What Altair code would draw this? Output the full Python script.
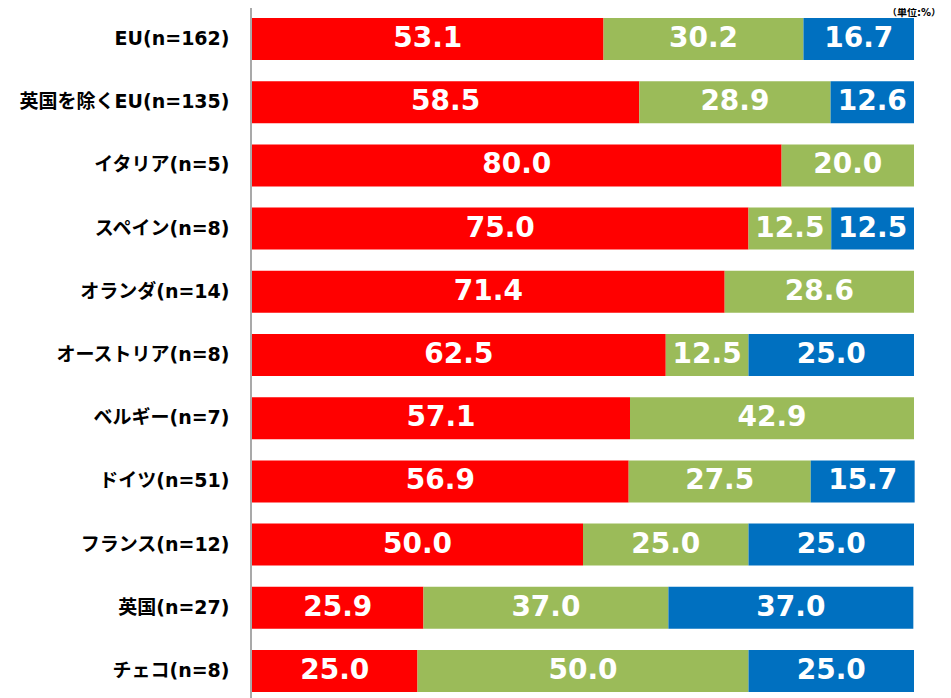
import altair as alt
import pandas as pd

categories = ["EU(n=162)", "英国を除くEU(n=135)", "イタリア(n=5)", "スペイン(n=8)",
              "オランダ(n=14)", "オーストリア(n=8)", "ベルギー(n=7)", "ドイツ(n=51)",
              "フランス(n=12)", "英国(n=27)", "チェコ(n=8)"]
series = ["拡大", "現状維持", "縮小・撤退"]
expand = [53.1, 58.5, 80.0, 75.0, 71.4, 62.5, 57.1, 56.9, 50.0, 25.9, 25.0]
keep = [30.2, 28.9, 20.0, 12.5, 28.6, 12.5, 42.9, 27.5, 25.0, 37.0, 50.0]
shrink = [16.7, 12.6, 0.0, 12.5, 0.0, 25.0, 0.0, 15.7, 25.0, 37.0, 25.0]
colors = ["#FF0000", "#9BBB59", "#0070C0"]
unit_label = "（単位:%）"

rows = []
for s_idx, (name, vals) in enumerate(zip(series, [expand, keep, shrink])):
    for cat, v in zip(categories, vals):
        rows.append({"category": cat, "series": name, "order": s_idx, "value": v})
df = pd.DataFrame(rows)

FONT = "DejaVu Sans, Noto Sans CJK JP"
W, H = 662, 674

y_enc = alt.Y("category:N", sort=categories,
              scale=alt.Scale(paddingInner=0.335, paddingOuter=0),
              axis=alt.Axis(title=None, ticks=False, domain=False, labelFont=FONT,
                            labelFontSize=19, labelFontWeight="bold", labelColor="#000000",
                            labelPadding=23, labelLimit=400))

base = alt.Chart(df).transform_window(
    cum="sum(value)", groupby=["category"], sort=[alt.SortField("order")], frame=[None, 0]
).transform_calculate(
    start="datum.cum - datum.value", mid="datum.cum - datum.value / 2"
)

bars = base.mark_bar().encode(
    y=y_enc,
    x=alt.X("start:Q", scale=alt.Scale(domain=[0, 100]), axis=None),
    x2="cum:Q",
    color=alt.Color("series:N", scale=alt.Scale(domain=series, range=colors), legend=None),
)

labels = base.transform_filter("datum.value > 0").mark_text(
    color="white", fontWeight="bold", fontSize=28, font=FONT
).encode(
    y=alt.Y("category:N", sort=categories),
    x=alt.X("mid:Q"),
    text=alt.Text("value:Q", format=".1f"),
)

axis_line = alt.Chart(pd.DataFrame({"a": [0]})).mark_rule(
    color="#8C8C8C", strokeWidth=1.5
).encode(x=alt.value(-1), y=alt.value(-18), y2=alt.value(H + 8))

unit = alt.Chart(pd.DataFrame({"a": [0]})).mark_text(
    align="right", baseline="top", fontSize=10, fontWeight="bold", font=FONT, color="#000000"
).encode(x=alt.value(W + 27), y=alt.value(-10), text=alt.value(unit_label))

chart = alt.layer(bars, labels, axis_line, unit).properties(
    width=W, height=H,
    autosize=alt.AutoSizeParams(type="none"),
    padding={"left": 244, "top": 10, "right": 29, "bottom": 6},
).configure_view(stroke=None)

chart.save("out.html", embed_options={"renderer": "svg", "actions": False})
